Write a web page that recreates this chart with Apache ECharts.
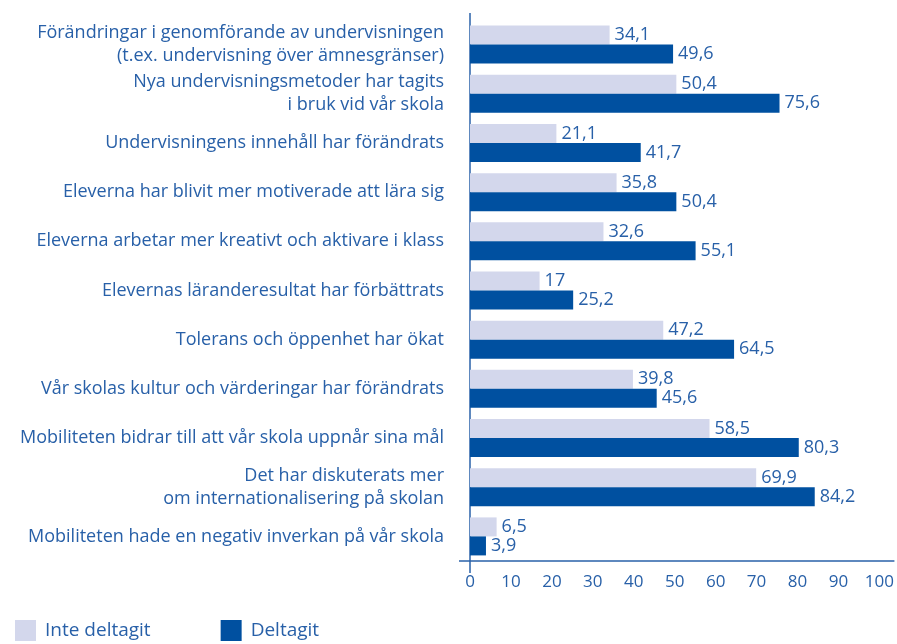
<!DOCTYPE html>
<html>
<head>
<meta charset="utf-8">
<script src="https://cdn.jsdelivr.net/npm/echarts@6/dist/echarts.min.js"></script>
<style>
  html, body { margin: 0; padding: 0; background: #fff; }
  #chart { width: 897px; height: 644px; }
</style>
</head>
<body>
<div id="chart"></div>
<script>
const categories = [
  'Förändringar i genomförande av undervisningen\n(t.ex. undervisning över ämnesgränser)',
  'Nya undervisningsmetoder har tagits\ni bruk vid vår skola',
  'Undervisningens innehåll har förändrats',
  'Eleverna har blivit mer motiverade att lära sig',
  'Eleverna arbetar mer kreativt och aktivare i klass',
  'Elevernas läranderesultat har förbättrats',
  'Tolerans och öppenhet har ökat',
  'Vår skolas kultur och värderingar har förändrats',
  'Mobiliteten bidrar till att vår skola uppnår sina mål',
  'Det har diskuterats mer\nom internationalisering på skolan',
  'Mobiliteten hade en negativ inverkan på vår skola'
]
const inteDeltagit = [34.1, 50.4, 21.1, 35.8, 32.6, 17, 47.2, 39.8, 58.5, 69.9, 6.5]
const deltagit = [49.6, 75.6, 41.7, 50.4, 55.1, 25.2, 64.5, 45.6, 80.3, 84.2, 3.9]
const seriesNames = ['Inte deltagit', 'Deltagit']

const textBlue = '#2860a8'
const fontFamily = '"Open Sans", Roboto, sans-serif'

const chart = echarts.init(document.getElementById('chart'))

const valueLabel = {
  show: true,
  position: 'right',
  distance: 5,
  color: textBlue,
  fontSize: 18,
  fontFamily: fontFamily,
  formatter: (p) => String(p.value).replace('.', ',')
}

chart.setOption({
  animation: false,
  grid: { left: 470, right: 17, top: 20, bottom: 83 },
  legend: {
    left: 10,
    top: 615,
    itemWidth: 21,
    itemHeight: 21,
    itemGap: 70,
    icon: 'rect',
    data: seriesNames,
    textStyle: { color: textBlue, fontSize: 19, fontFamily: fontFamily, padding: [0, 0, 0, 4] }
  },
  xAxis: {
    type: 'value',
    min: 0,
    max: 100,
    interval: 10,
    axisLine: { show: false },
    axisTick: { show: false },
    splitLine: { show: false },
    axisLabel: { color: textBlue, fontSize: 17, fontFamily: fontFamily, margin: 13 }
  },
  yAxis: {
    type: 'category',
    inverse: true,
    data: categories,
    axisLine: { show: false },
    axisTick: { show: false },
    axisLabel: {
      color: textBlue,
      fontSize: 18,
      fontFamily: fontFamily,
      margin: 26,
      lineHeight: 23,
      align: 'right'
    }
  },
  series: [
    {
      name: seriesNames[0],
      type: 'bar',
      data: inteDeltagit,
      barWidth: 19,
      barGap: '0%',
      itemStyle: { color: '#d3d7ec' },
      label: valueLabel
    },
    {
      name: seriesNames[1],
      type: 'bar',
      data: deltagit,
      barWidth: 19,
      barGap: '0%',
      itemStyle: { color: '#0050a0' },
      label: valueLabel
    }
  ]
})

// axis lines that run past the plot area, placed from the axis scales
const origin = chart.convertToPixel({ gridIndex: 0 }, [0, 0])
const xEnd = chart.convertToPixel({ xAxisIndex: 0 }, 100)
const gridTop = 20
const gridBottom = 644 - 83
const lineStyle = { stroke: '#2860a8', lineWidth: 1.5 }
chart.setOption({
  graphic: [
    { type: 'line', shape: { x1: origin[0], y1: gridTop - 7, x2: origin[0], y2: gridBottom + 12 }, style: lineStyle },
    { type: 'line', shape: { x1: origin[0] - 11, y1: gridBottom, x2: xEnd + 15, y2: gridBottom }, style: lineStyle }
  ]
})
</script>
</body>
</html>
